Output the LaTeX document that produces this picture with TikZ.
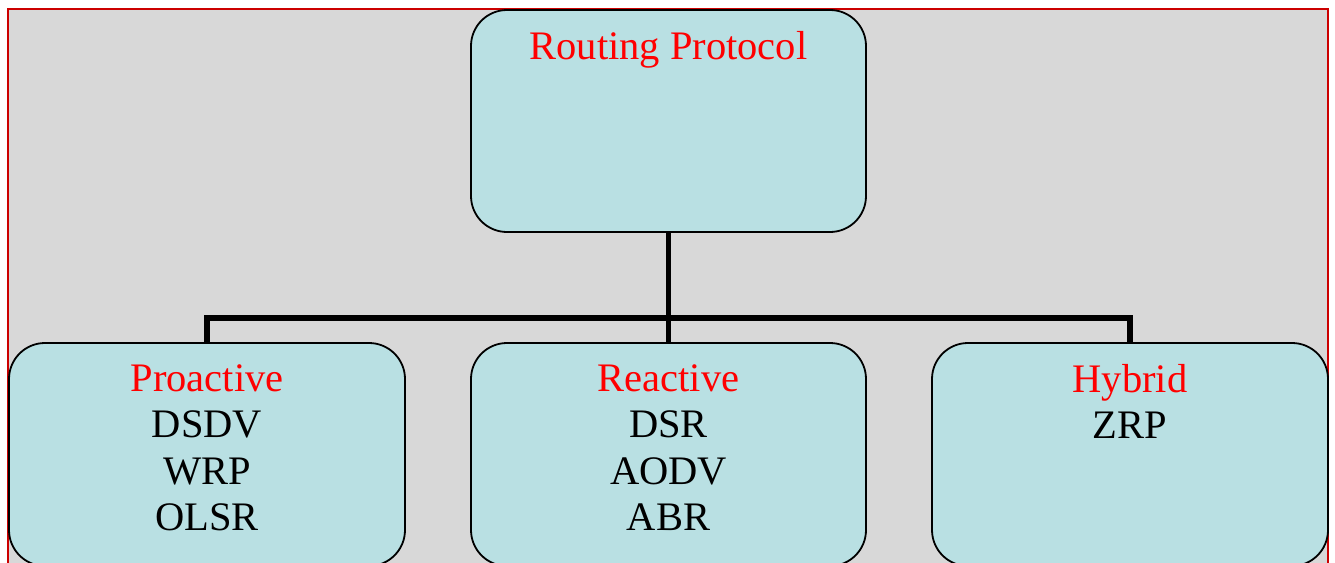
\documentclass[tikz,border=0pt]{standalone}
\usepackage{fontspec}
\setmainfont{Liberation Serif}
\definecolor{bggray}{HTML}{D8D8D8}
\definecolor{boxfill}{HTML}{B9E0E3}
\definecolor{bordred}{HTML}{CC0000}
\definecolor{txtred}{HTML}{FF0000}
\begin{document}
\begin{tikzpicture}[x=1pt,y=-1pt,
  box/.style={draw=black, line width=1.8pt, fill=boxfill, rounded corners=36pt, inner sep=0pt},
  conn/.style={draw=black, line width=5.5pt},
  lbl/.style={anchor=north, align=center, inner sep=0pt, font=\fontsize{40.5}{46.5}\selectfont}]
\useasboundingbox (0,0) rectangle (1335,562);
\clip (0,0) rectangle (1335,562);
\draw[fill=bggray, draw=bordred, line width=2.2pt] (8,9) rectangle (1328,620);
\node[box, minimum width=395pt, minimum height=222pt] (root) at (668.5,121) {};
\node[box, minimum width=396pt, minimum height=223pt] (pro) at (207,454.5) {};
\node[box, minimum width=395pt, minimum height=223pt] (rea) at (668.5,454.5) {};
\node[box, minimum width=396pt, minimum height=223pt] (hyb) at (1130,454.5) {};
\draw[conn] (root.south) -- (rea.north);
\draw[conn] (pro.north) -- ++(0,-24) -| (hyb.north);
\node[lbl] (t0) at (668.5,31) {\textcolor{txtred}{Routing Protocol}};
\node[lbl] (t1) at (207,364) {\textcolor{txtred}{Proactive}\\DSDV\\WRP\\OLSR};
\node[lbl] (t2) at (668.5,364) {\textcolor{txtred}{Reactive}\\DSR\\AODV\\ABR};
\node[lbl] (t3) at (1130,364) {\textcolor{txtred}{Hybrid}\\ZRP};
\end{tikzpicture}
\end{document}
